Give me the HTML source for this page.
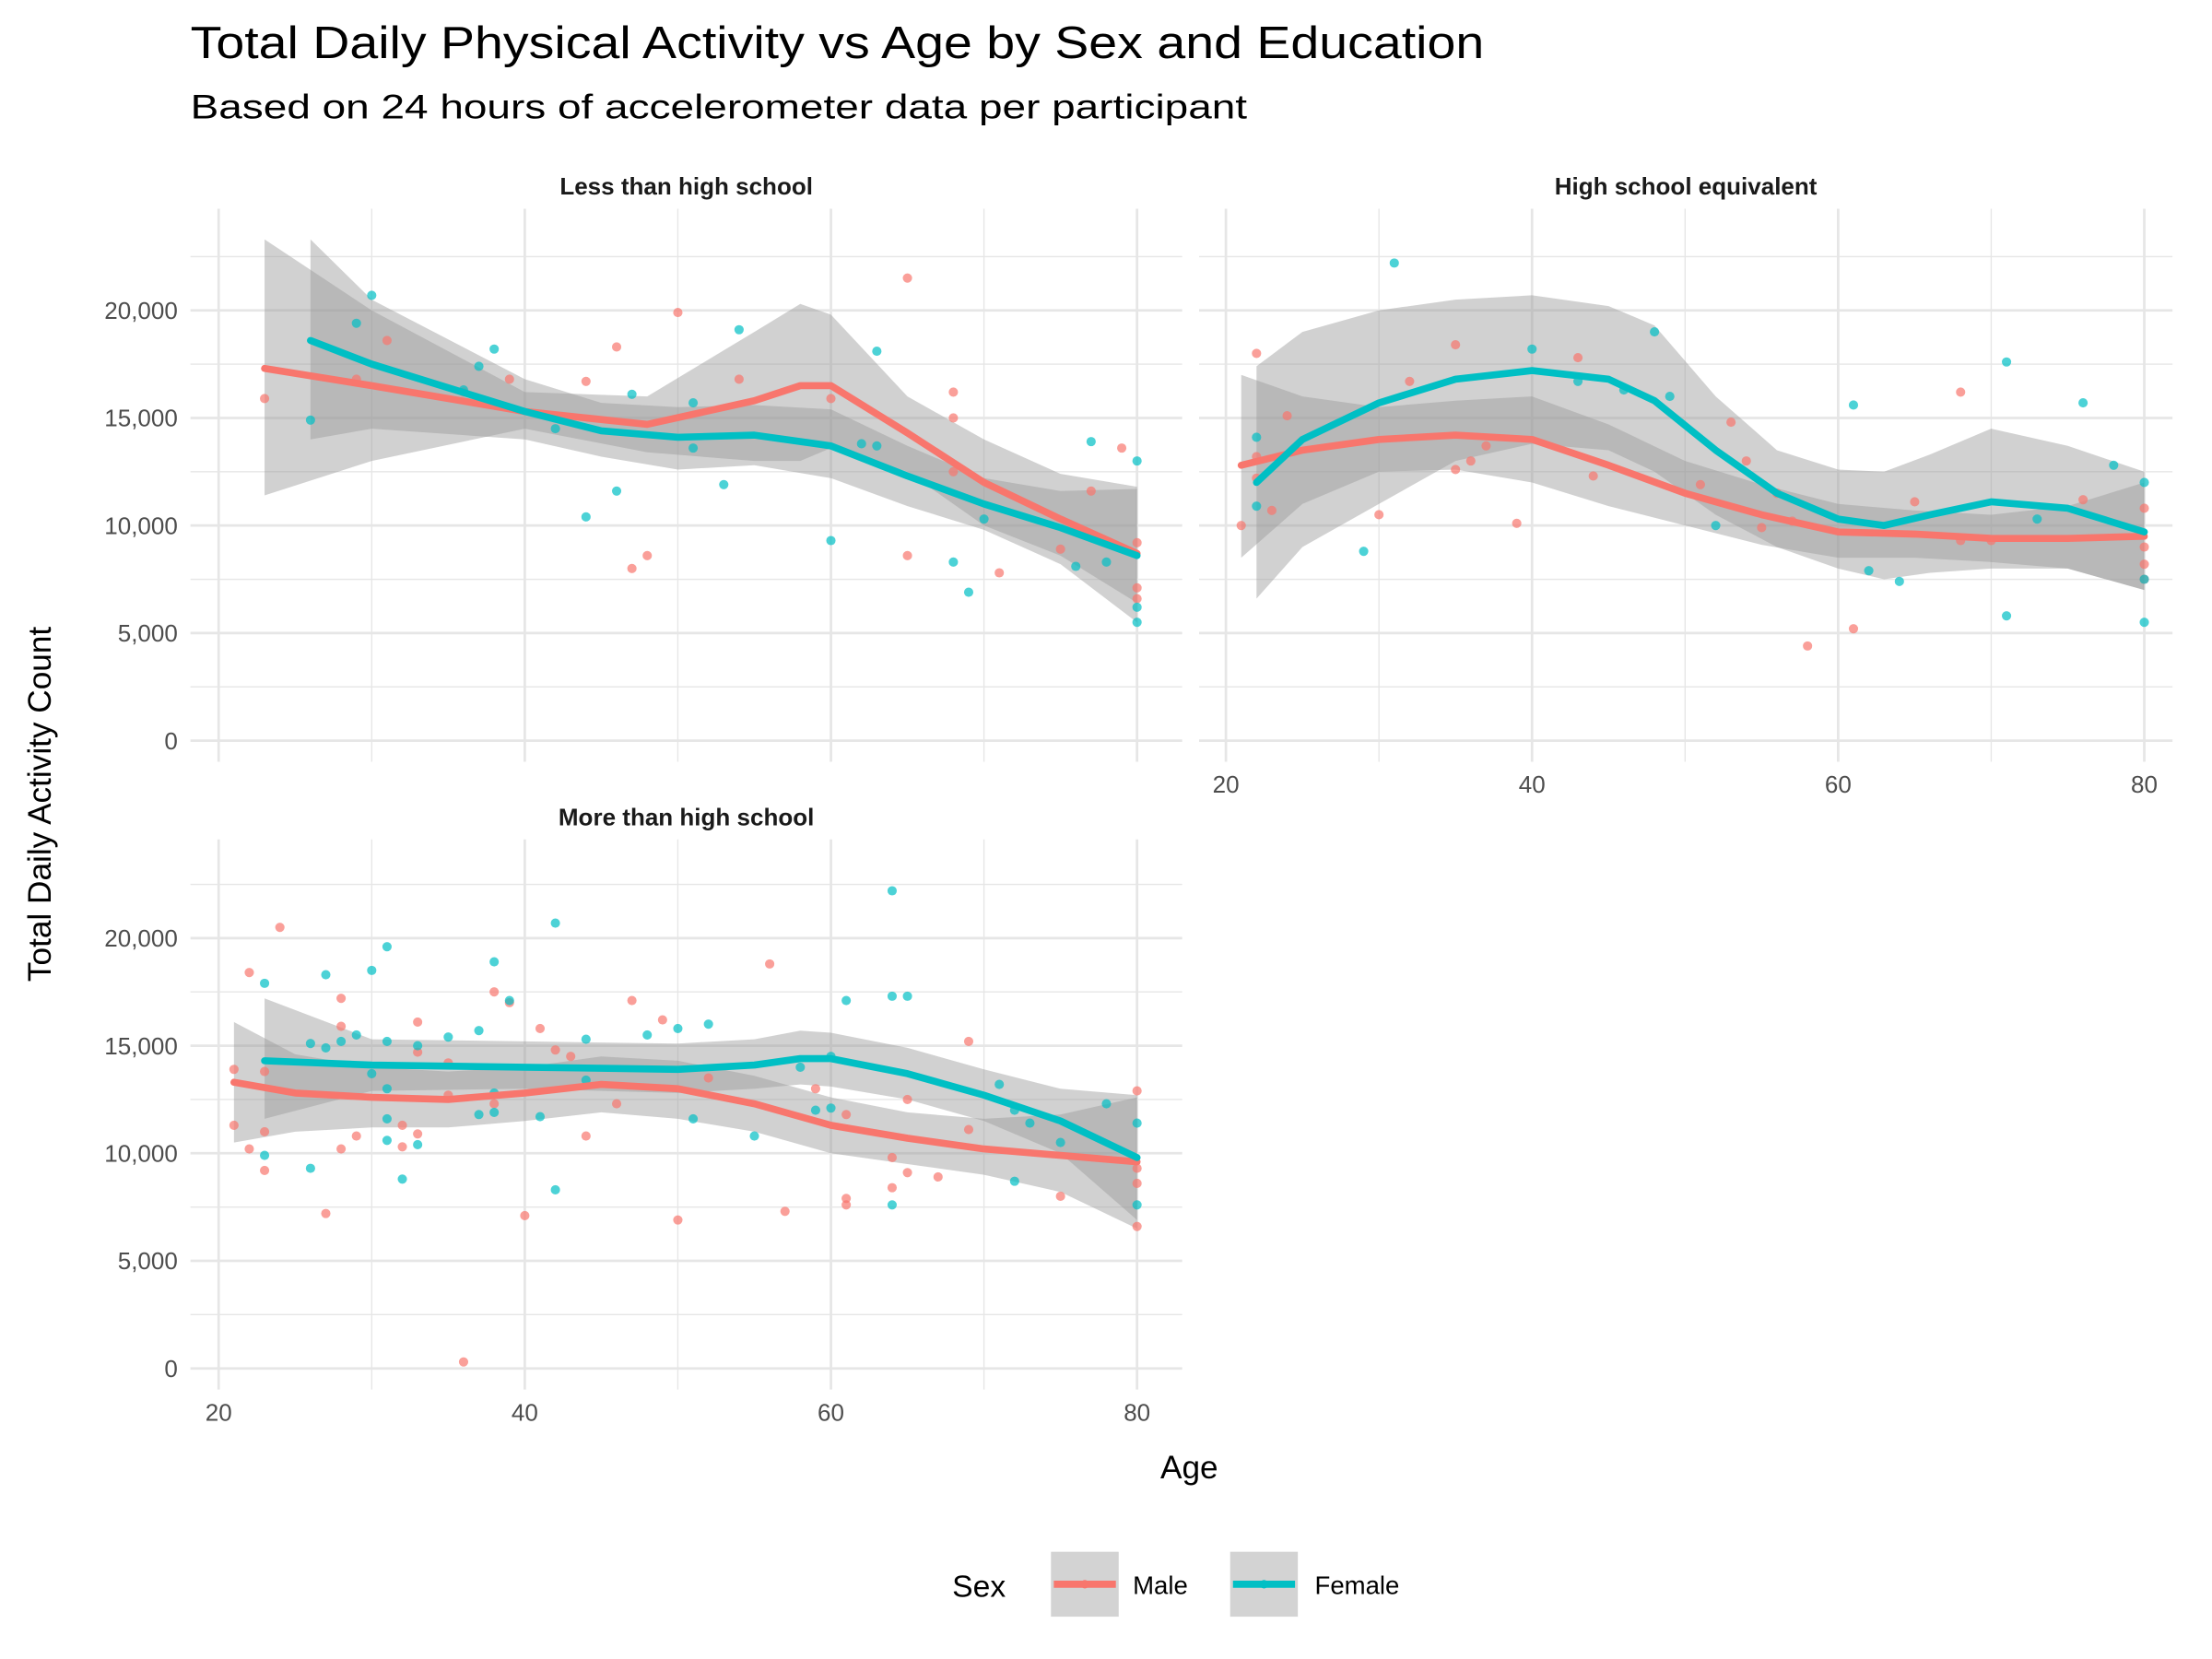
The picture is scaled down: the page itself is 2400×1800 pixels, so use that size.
<!DOCTYPE html>
<html><head><meta charset="utf-8"><style>
html,body{margin:0;padding:0;background:#fff;}
svg{display:block;font-family:"Liberation Sans",Arial,sans-serif;}
</style></head><body>
<svg id="chart" width="2400" height="1800" viewBox="0 0 1568 1176" xmlns="http://www.w3.org/2000/svg">
<rect width="1568" height="1176" fill="#fff"/>
<text x="135" y="41" font-size="32" fill="#000" textLength="917" lengthAdjust="spacingAndGlyphs">Total Daily Physical Activity vs Age by Sex and Education</text>
<text x="135" y="84" font-size="24" fill="#000" textLength="749" lengthAdjust="spacingAndGlyphs">Based on 24 hours of accelerometer data per participant</text>
<text transform="translate(36,570) rotate(-90)" text-anchor="middle" font-size="23" fill="#000">Total Daily Activity Count</text>
<text x="843" y="1048" text-anchor="middle" font-size="23" fill="#000">Age</text>
<g id="panels"></g>
<g>
<text x="675" y="1132" font-size="22">Sex</text>
<g>
<rect x="745" y="1100" width="48" height="46" fill="#d3d3d3"/>
<line x1="747" y1="1123" x2="791" y2="1123" stroke="#F8766D" stroke-width="5"/>
<circle cx="769" cy="1123" r="3" fill="#F8766D"/>
<text x="803" y="1130" font-size="18">Male</text></g>
<g>
<rect x="872" y="1100" width="48" height="46" fill="#d3d3d3"/>
<line x1="874" y1="1123" x2="918" y2="1123" stroke="#00BFC4" stroke-width="5"/>
<circle cx="896" cy="1123" r="3" fill="#00BFC4"/>
<text x="932" y="1130" font-size="18">Female</text></g>
</g>
</svg>
<script>
const panelTitles=["Less than high school","High school equivalent","More than high school"];
const yTicks=[0,5000,10000,15000,20000];
const yTickLabels=["0","5,000","10,000","15,000","20,000"];
const xTicks=[20,40,60,80];
const p1Male=[[23,15900],[29,16800],[31,18600],[36,16200],[39,16800],[44,16700],[46,18300],[47,8000],[48,8600],[50,19900],[54,16800],[60,15900],[65,21500],[65,8600],[68,16200],[68,15000],[68,12500],[71,7800],[75,8900],[77,11600],[79,13600],[80,9200],[80,7100],[80,6600]];
const p1Female=[[26,14900],[29,19400],[30,20700],[36,16300],[37,17400],[38,18200],[42,14500],[44,10400],[46,11600],[47,16100],[51,15700],[51,13600],[53,11900],[54,19100],[60,9300],[62,13800],[63,18100],[63,13700],[68,8300],[69,6900],[70,10300],[76,8100],[77,13900],[78,8300],[80,13000],[80,6200],[80,5500]];
const p1MaleFit=[[23,17300,11400,23300],[30,16500,13000,20000],[40,15300,14500,16200],[48,14700,13400,16000],[55,15800,13000,19000],[58,16500,13000,20300],[60,16500,13600,19800],[65,14300,12500,16000],[70,12000,10000,14000],[75,10300,8600,12400],[80,8700,6400,11800]];
const p1FemaleFit=[[26,18600,14000,23300],[30,17500,14500,20500],[40,15300,14000,16800],[45,14400,13200,15700],[50,14100,12600,15500],[55,14200,12800,15600],[60,13700,12200,15400],[65,12300,10900,13700],[70,11000,9800,12200],[75,9900,8200,11600],[80,8600,5500,11700]];
const p2Male=[[21,10000],[22,18000],[22,13200],[22,12200],[23,10700],[24,15100],[30,10500],[32,16700],[35,18400],[35,12600],[36,13000],[37,13700],[39,10100],[43,17800],[44,12300],[51,11900],[53,14800],[54,13000],[55,9900],[56,11500],[57,10200],[58,4400],[61,5200],[65,11100],[68,16200],[68,9300],[70,9300],[76,11200],[80,10800],[80,9000],[80,8200],[80,7500]];
const p2Female=[[22,14100],[22,10900],[29,8800],[31,22200],[40,18200],[43,16700],[46,16300],[48,19000],[49,16000],[52,10000],[61,15600],[62,7900],[64,7400],[71,17600],[71,5800],[73,10300],[76,15700],[78,12800],[80,12000],[80,7500],[80,5500]];
const p2MaleFit=[[21,12800,8500,17000],[25,13500,11000,16000],[30,14000,12500,15500],[35,14200,12600,15800],[40,14000,12000,16000],[45,12800,10900,14700],[50,11500,10000,13000],[55,10500,9100,11900],[60,9700,8500,11000],[65,9600,8500,10700],[70,9400,8300,10500],[75,9400,8000,10900],[80,9500,7000,12000]];
const p2FemaleFit=[[22,12000,6600,17400],[25,14000,9000,19000],[30,15700,11000,20000],[35,16800,13000,20500],[40,17200,13800,20700],[45,16800,13500,20200],[48,15800,12500,19300],[52,13500,10500,16000],[56,11500,9000,13500],[60,10300,8000,12600],[63,10000,7500,12500],[66,10500,7800,13300],[70,11100,8000,14500],[75,10800,8000,13700],[80,9700,7000,12500]];
const p3Male=[[21,13900],[21,11300],[22,18400],[22,10200],[23,13800],[23,11000],[23,9200],[24,20500],[27,7200],[28,17200],[28,15900],[28,10200],[29,10800],[32,11300],[32,10300],[33,16100],[33,14700],[33,10900],[35,14200],[35,12700],[36,300],[38,17500],[38,12300],[39,17000],[40,7100],[41,15800],[42,14800],[43,14500],[44,10800],[46,12300],[47,17100],[49,16200],[50,6900],[52,13500],[56,18800],[57,7300],[59,13000],[61,11800],[61,7900],[61,7600],[64,9800],[64,8400],[65,12500],[65,9100],[67,8900],[69,15200],[69,11100],[75,8000],[80,12900],[80,9300],[80,8600],[80,6600]];
const p3Female=[[23,17900],[23,9900],[26,15100],[26,9300],[27,18300],[27,14900],[28,15200],[29,15500],[30,18500],[30,13700],[31,19600],[31,15200],[31,13000],[31,11600],[31,10600],[32,8800],[33,15000],[33,10400],[35,15400],[37,15700],[37,11800],[38,18900],[38,12800],[38,11900],[39,17100],[41,11700],[42,20700],[42,8300],[44,15300],[44,13400],[48,15500],[50,15800],[51,11600],[52,16000],[55,10800],[58,14000],[59,12000],[60,14500],[60,12100],[61,17100],[64,22200],[64,17300],[64,7600],[65,17300],[71,13200],[72,12000],[72,8700],[73,11400],[75,10500],[78,12300],[80,11400],[80,7600]];
const p3MaleFit=[[21,13300,10500,16100],[25,12800,11000,14600],[30,12600,11200,14000],[35,12500,11200,13800],[40,12800,11500,14000],[45,13200,11900,14500],[50,13000,11600,14300],[55,12300,11000,13600],[60,11300,10000,12600],[65,10700,9500,11900],[70,10200,9000,11600],[75,9900,8200,11800],[80,9600,6500,12600]];
const p3FemaleFit=[[23,14300,11600,17200],[30,14100,12900,15300],[40,14000,13000,15200],[50,13900,12800,15100],[55,14100,13000,15300],[58,14400,13200,15700],[60,14400,13100,15600],[65,13700,12500,14900],[70,12700,11500,13900],[75,11500,10000,13000],[80,9800,6900,12700]];

const NS="http://www.w3.org/2000/svg";
const root=document.getElementById('panels');
function mk(tag,attrs,parent){const e=document.createElementNS(NS,tag);for(const k in attrs)e.setAttribute(k,attrs[k]);parent.appendChild(e);return e;}
const panels=[
 {x0:135,x1:838,y0:148,y1:540,age20:155,y0val:525,showX:false,showY:true,male:p1Male,female:p1Female,mf:p1MaleFit,ff:p1FemaleFit,name:"less-than-high-school"},
 {x0:850,x1:1540,y0:148,y1:540,age20:869,y0val:525,showX:true,showY:false,male:p2Male,female:p2Female,mf:p2MaleFit,ff:p2FemaleFit,name:"high-school-equivalent"},
 {x0:135,x1:838,y0:595,y1:985,age20:155,y0val:970,showX:true,showY:true,male:p3Male,female:p3Female,mf:p3MaleFit,ff:p3FemaleFit,name:"more-than-high-school"}
];
const pxPerYear=10.85, pxPerUnit=15.25/1000;
panels.forEach((p,i)=>{
 const g=mk('g',{},root);
 
 
 const xs=a=>p.age20+(a-20)*pxPerYear;
 const ys=v=>p.y0val-v*pxPerUnit;
 for(let v=-2500;v<=25000;v+=2500){const y=ys(v);if(y<p.y0||y>p.y1)continue;
   mk('line',{x1:p.x0,x2:p.x1,y1:y,y2:y,stroke:'#e6e6e6','stroke-width':(v%5000===0)?1.8:0.9},g);}
 for(let a=20;a<=80;a+=10){const x=xs(a);
   mk('line',{x1:x,x2:x,y1:p.y0,y2:p.y1,stroke:'#e6e6e6','stroke-width':(a%20===0)?1.8:0.9},g);}
 const st=mk('text',{x:(p.x0+p.x1)/2,y:p.y0-10,'text-anchor':'middle','font-size':17,'font-weight':'bold',fill:'#1a1a1a'},g);
 st.textContent=panelTitles[i];
 
 
 if(p.showY){yTicks.forEach((v,k)=>{const t=mk('text',{x:p.x0-9,y:ys(v)+6,'text-anchor':'end','font-size':17,fill:'#4d4d4d'},g);t.textContent=yTickLabels[k];
   
   });}
 if(p.showX){xTicks.forEach(a=>{const t=mk('text',{x:xs(a),y:p.y1+22,'text-anchor':'middle','font-size':17,fill:'#4d4d4d'},g);t.textContent=a;
   
   });}
 [[p.mf,'male'],[p.ff,'female']].forEach(([fit,s])=>{
   let d='M'+fit.map(r=>xs(r[0])+','+ys(r[3])).join('L')+'L'+fit.slice().reverse().map(r=>xs(r[0])+','+ys(r[2])).join('L')+'Z';
   const r=mk('path',{d:d,fill:'#999999','fill-opacity':0.45},g);
   
   
 });
 [[p.male,'#F8766D','male'],[p.female,'#00BFC4','female']].forEach(([pts,c,s])=>{
   pts.forEach(pt=>{const cc=mk('circle',{cx:xs(pt[0]),cy:ys(pt[1]),r:3.3,fill:c,'fill-opacity':0.7},g);
     
     });
 });
 [[p.mf,'#F8766D','male'],[p.ff,'#00BFC4','female']].forEach(([fit,c,s])=>{
   const l=mk('polyline',{points:fit.map(r=>xs(r[0])+','+ys(r[1])).join(' '),fill:'none',stroke:c,'stroke-width':5,'stroke-linejoin':'round','stroke-linecap':'round'},g);
   
   
 });
});
</script>
</body></html>
